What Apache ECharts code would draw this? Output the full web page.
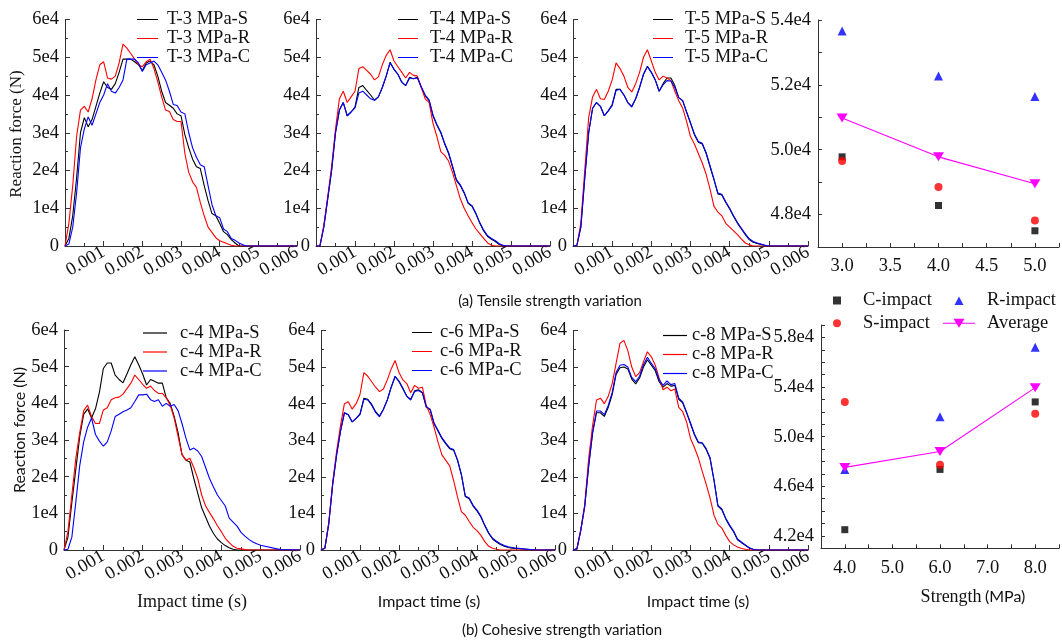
<!DOCTYPE html>
<html>
<head>
<meta charset="utf-8">
<script src="https://cdn.jsdelivr.net/npm/echarts@6/dist/echarts.min.js"></script>
<style>
  html, body { margin: 0; padding: 0; background: #fff; }
  #main { width: 1062px; height: 643px; }
</style>
</head>
<body>
<div id="main"></div>
<script>
// impact time in ms (0.1 ms steps to 5.0, then tail)
const tMs = [0,0.1,0.2,0.3,0.4,0.5,0.6,0.7,0.8,0.9,1.0,1.1,1.2,1.3,1.4,1.5,1.6,1.7,1.8,1.9,2.0,2.1,2.2,2.3,2.4,2.5,2.6,2.7,2.8,2.9,3.0,3.1,3.2,3.3,3.4,3.5,3.6,3.7,3.8,3.9,4.0,4.1,4.2,4.3,4.4,4.5,4.6,4.7,4.8,4.9,5.0,5.5,6.0];

// reaction force, x1e4 N
const t3S = [0,0.2,0.8,1.8,3.0,3.4,3.16,3.35,3.7,4.05,4.35, 4.2,4.15,4.3,4.6,4.95,4.95,4.95,4.88,4.8,4.65, 4.85,4.9,4.8,4.5,4.1,3.8,3.73,3.65,3.5,3.45, 2.95,2.6,2.3,2.1,2.05,1.6,1.2,0.86,0.8,0.6, 0.38,0.3,0.17,0.08,0,0,0,0,0,0, 0,0];
const t3R = [0,0.6,1.6,2.9,3.6,3.7,3.55,3.9,4.4,4.8,4.88, 4.45,4.42,4.5,4.85,5.35,5.24,5.1,4.95,4.8,4.75, 4.88,4.95,4.7,4.35,3.95,3.6,3.56,3.35,3.3,3.3, 2.45,1.95,1.7,1.55,1.15,0.8,0.5,0.36,0.22,0.14, 0.1,0.06,0.02,0,0,0,0,0,0,0, 0,0];
const t3C = [0,0.05,0.5,1.4,2.6,3.1,3.42,3.2,3.5,3.8,4.0, 4.3,4.1,4.05,4.2,4.4,4.95,4.95,4.95,4.85,4.62, 4.8,4.85,4.9,4.8,4.6,4.4,4.1,3.75,3.72,3.55, 3.5,3.0,2.6,2.35,2.15,2.1,1.6,1.1,0.8,0.75, 0.45,0.38,0.2,0.15,0.08,0.03,0,0,0,0, 0,0];

const t4S = [0,0,0.5,1.25,2.0,3.0,3.6,3.8,3.45,3.55,3.68, 4.2,4.25,4.12,4.0,3.86,3.95,4.2,4.5,4.87,4.68, 4.55,4.34,4.25,4.47,4.43,4.47,4.2,3.98,3.85,3.45, 3.2,3.0,2.7,2.45,2.1,1.74,1.6,1.4,1.13,1.05, 0.85,0.6,0.4,0.25,0.18,0.12,0.04,0,0,0, 0,0];
const t4R = [0,0,0.55,1.3,2.1,3.1,3.9,4.1,3.8,3.95,4.1, 4.7,4.75,4.65,4.55,4.4,4.48,4.8,5.05,5.2,4.9, 4.75,4.6,4.45,4.6,4.52,4.5,4.2,3.9,3.8,3.25, 2.9,2.5,2.4,2.25,1.95,1.6,1.25,1.0,0.8,0.62, 0.45,0.33,0.2,0.08,0.02,0,0,0,0,0, 0,0];
const t4C = [0,0,0.5,1.25,2.0,3.0,3.6,3.8,3.45,3.55,3.66, 4.05,4.1,4.0,3.9,3.86,3.95,4.2,4.5,4.85,4.68, 4.55,4.34,4.25,4.45,4.43,4.45,4.22,4.0,3.87,3.47, 3.22,3.02,2.72,2.47,2.12,1.76,1.62,1.42,1.15,1.07, 0.87,0.62,0.42,0.27,0.2,0.14,0.06,0.02,0,0, 0,0];

const t5S = [0,0.02,0.5,1.8,3.0,3.65,3.8,3.7,3.45,3.58,3.75, 4.15,4.15,4.0,3.8,3.7,3.9,4.2,4.55,4.76,4.6, 4.4,4.1,4.3,4.45,4.45,4.25,3.93,3.85,3.55,3.25, 2.95,2.75,2.7,2.45,2.1,1.75,1.38,1.35,1.15,0.98, 0.78,0.6,0.45,0.3,0.17,0.1,0.07,0.04,0.02,0, 0,0];
const t5R = [0,0.02,0.6,2.0,3.4,3.95,4.15,3.9,3.88,4.1,4.4, 4.85,4.7,4.5,4.2,4.08,4.3,4.6,5.0,5.2,4.9, 4.6,4.4,4.5,4.45,4.38,4.1,3.85,3.65,3.3,2.9, 2.7,2.45,2.2,1.9,1.5,1.05,0.9,0.8,0.6,0.5, 0.4,0.3,0.18,0.08,0.03,0,0,0,0,0, 0,0];
const t5C = [0,0.02,0.5,1.8,3.0,3.65,3.8,3.7,3.45,3.58,3.72, 4.12,4.15,4.0,3.8,3.68,3.9,4.2,4.55,4.75,4.6, 4.4,4.1,4.27,4.38,4.37,4.2,3.93,3.85,3.55,3.27, 2.97,2.77,2.72,2.47,2.12,1.77,1.4,1.37,1.17,1.0, 0.8,0.62,0.47,0.32,0.19,0.12,0.08,0.05,0.02,0, 0,0];

const c4S = [0,0.35,1.3,2.2,3.1,3.7,3.85,3.6,3.85,4.3,4.95, 5.1,5.1,4.77,4.65,4.56,4.8,5.05,5.27,5.05,4.8, 4.5,4.65,4.6,4.55,4.55,4.15,4.0,3.65,3.2,2.6, 2.45,2.4,1.95,1.55,1.15,0.9,0.65,0.45,0.3,0.2, 0.12,0.06,0.02,0,0,0,0,0,0,0, 0,0];
const c4R = [0,0.5,1.5,2.5,3.2,3.8,3.95,3.64,3.45,3.45,3.82, 3.88,4.1,4.15,4.17,4.25,4.4,4.55,4.77,4.65,4.52, 4.41,4.47,4.35,4.27,4.27,4.15,3.95,3.6,3.1,2.6, 2.45,2.5,2.25,1.95,1.5,1.2,1.02,0.85,0.66,0.5, 0.32,0.2,0.1,0.05,0.03,0.01,0,0,0,0, 0,0];
const c4C = [0,0.02,0.35,1.3,2.3,2.95,3.35,3.6,3.15,2.97,2.83, 2.95,3.25,3.64,3.7,3.77,3.82,3.88,4.05,4.23,4.23, 4.25,4.1,4.05,4.1,3.92,4.0,3.92,3.97,3.8,3.45, 3.05,2.73,2.78,2.7,2.55,2.25,1.95,1.72,1.5,1.35, 1.2,0.87,0.76,0.65,0.48,0.38,0.29,0.22,0.17,0.13, 0.01,0];

const c6S = [0,0.05,0.73,1.8,2.6,3.25,3.75,3.7,3.5,3.6,3.72, 4.15,4.12,3.98,3.78,3.66,3.85,4.1,4.45,4.75,4.62, 4.42,4.2,4.12,4.35,4.38,4.3,3.9,3.83,3.45,3.25, 3.05,2.9,2.77,2.73,2.45,2.05,1.46,1.4,1.2,1.07, 0.9,0.66,0.45,0.3,0.22,0.15,0.1,0.07,0.05,0.04, 0,0];
const c6R = [0,0.05,0.75,1.85,2.7,3.4,4.0,4.05,3.85,4.0,4.25, 4.85,4.75,4.6,4.45,4.33,4.4,4.65,4.95,5.18,4.85, 4.65,4.55,4.3,4.5,4.42,4.45,3.95,3.7,3.35,2.95, 2.6,2.45,2.3,1.9,1.45,1.05,0.95,0.78,0.62,0.53, 0.4,0.23,0.1,0.05,0.02,0,0,0,0,0, 0,0];
const c6C = [0,0.05,0.73,1.8,2.6,3.25,3.75,3.7,3.5,3.6,3.7, 4.12,4.1,3.96,3.76,3.64,3.84,4.1,4.45,4.74,4.6, 4.4,4.2,4.1,4.33,4.36,4.3,3.92,3.85,3.47,3.27, 3.07,2.92,2.79,2.75,2.47,2.07,1.48,1.42,1.22,1.09, 0.92,0.68,0.47,0.32,0.24,0.17,0.12,0.09,0.07,0.05, 0,0];

const c8S = [0,0.03,0.55,1.2,2.3,3.2,3.75,3.75,3.65,3.9,4.25, 4.8,4.98,5.0,4.95,4.67,4.54,4.7,5.0,5.2,5.05, 4.9,4.6,4.45,4.55,4.48,4.5,4.12,4.02,3.75,3.45, 3.15,2.93,2.92,2.75,2.5,1.9,1.2,1.1,0.85,0.66, 0.5,0.28,0.2,0.13,0.05,0.02,0,0,0,0, 0,0];
const c8R = [0,0.03,0.55,1.25,2.5,3.4,4.1,4.15,4.0,4.2,4.55, 5.1,5.65,5.73,5.45,5.0,4.74,4.85,5.15,5.42,5.28, 5.05,4.7,4.38,4.45,4.35,4.4,3.9,3.78,3.5,3.05, 2.8,2.52,2.15,1.8,1.42,0.95,0.7,0.6,0.4,0.23, 0.14,0.08,0.04,0.02,0,0,0,0,0,0, 0,0];
const c8C = [0,0.03,0.55,1.2,2.3,3.2,3.8,3.8,3.7,3.95,4.3, 4.85,5.05,5.07,5.0,4.72,4.6,4.75,5.07,5.27,5.1, 4.95,4.65,4.5,4.62,4.52,4.55,4.15,4.05,3.77,3.47, 3.17,2.95,2.93,2.77,2.52,1.92,1.22,1.12,0.87,0.68, 0.52,0.3,0.22,0.14,0.06,0.02,0,0,0,0, 0,0];

// peak force vs strength, x1e4 N
const tensileMPa = [3, 4, 5];
const tensileC = [4.978, 4.828, 4.75];
const tensileR = [5.366, 5.227, 5.164];
const tensileS = [4.965, 4.885, 4.782];
const tensileAvg = [5.098, 4.978, 4.895];

const cohesiveMPa = [4, 6, 8];
const cohesiveC = [4.25, 4.736, 5.28];
const cohesiveR = [4.736, 5.16, 5.72];
const cohesiveS = [5.28, 4.774, 5.184];
const cohesiveAvg = [4.752, 4.88, 5.395];

const SERIF = '"Liberation Serif", "DejaVu Serif", serif';
const SANS = 'Lato, "Noto Sans", sans-serif';
const AXIS = '#333';
const FS = 18.5;

// legend icons
const LINE_ICON = 'path://M0,0L20,0L20,1L0,1Z';
const TRI_ICON = 'path://M0,0L0.01,0Z M16,1L20.5,9.5L11.5,9.5Z M32,10L31.99,10Z';
const AVG_ICON = 'path://M0,4.5L32,4.5L32,5.5L0,5.5Z M10.5,0.5L21.5,0.5L16,9.5Z M0,0L0.01,0Z M32,10L31.99,10Z';

const panels = [
    { tag: 'T-3 MPa', S: t3S, R: t3R, C: t3C, g: [65, 19.5, 232, 226.5], leg: [137, 10, 21, 4, 0, 18] },
    { tag: 'T-4 MPa', S: t4S, R: t4R, C: t4C, g: [316, 19.5, 234, 226.5], leg: [398, 10, 20, 7, 0, 18] },
    { tag: 'T-5 MPa', S: t5S, R: t5R, C: t5C, g: [573, 19.5, 235, 226.5], leg: [653, 10, 20, 7, 0, 18] },
    { tag: 'c-4 MPa', S: c4S, R: c4R, C: c4C, g: [64, 330, 236, 220], leg: [143, 323.5, 24, 8, 0, 17] },
    { tag: 'c-6 MPa', S: c6S, R: c6R, C: c6C, g: [321, 330.5, 234, 219.5], leg: [412, 323, 20, 3, 0, 18] },
    { tag: 'c-8 MPa', S: c8S, R: c8R, C: c8C, g: [573, 330.5, 235, 219.5], leg: [663, 326, 24, 0, 0, 18] }
];

const grids = [], xAxes = [], yAxes = [], series = [], legends = [];

function pairs(arr) {
    return tMs.map((t, i) => [t / 1000, arr[i] * 1e4]);
}

panels.forEach((p, i) => {
    grids.push({ left: p.g[0], top: p.g[1], width: p.g[2], height: p.g[3] });
    xAxes.push({
        gridIndex: i, type: 'value', min: 0, max: 0.006, interval: 0.001,
        axisLine: { lineStyle: { color: AXIS } },
        axisTick: { inside: true, length: 5, lineStyle: { color: AXIS } },
        minorTick: { show: true, splitNumber: 2, length: 3, lineStyle: { color: AXIS } },
        splitLine: { show: false },
        axisLabel: {
            rotate: 30, margin: 5, showMaxLabel: true, color: '#111',
            fontFamily: SERIF, fontSize: FS,
            formatter: v => v === 0 ? '' : v.toFixed(3)
        }
    });
    yAxes.push({
        gridIndex: i, type: 'value', min: 0, max: 60000, interval: 10000,
        axisLine: { show: true, lineStyle: { color: AXIS } },
        axisTick: { show: true, inside: true, length: 5, lineStyle: { color: AXIS } },
        minorTick: { show: true, splitNumber: 2, length: 3, lineStyle: { color: AXIS } },
        splitLine: { show: false },
        axisLabel: {
            margin: 6, color: '#111', fontFamily: SERIF, fontSize: FS,
            formatter: v => v === 0 ? '0' : (v / 1e4) + 'e4'
        }
    });
    const names = [p.tag + '-S', p.tag + '-R', p.tag + '-C'];
    [[p.S, '#000000'], [p.R, '#ff0000'], [p.C, '#0000ff']].forEach((s, k) => {
        series.push({
            name: names[k], type: 'line', xAxisIndex: i, yAxisIndex: i,
            data: pairs(s[0]), symbol: 'none', showSymbol: false,
            lineStyle: { color: s[1], width: 1.1 }, itemStyle: { color: s[1] }
        });
    });
    legends.push({
        data: names.map(n => ({ name: n, icon: LINE_ICON })),
        orient: 'vertical', left: p.leg[0], top: p.leg[1],
        itemWidth: p.leg[2], itemHeight: 1.2, itemGap: p.leg[4], selectedMode: false,
        padding: 0,
        textStyle: { fontFamily: SERIF, fontSize: FS, lineHeight: p.leg[5], color: '#111', padding: [0, 0, 0, p.leg[3]] }
    });
});

// scatter panels
const sc = [
    { x: tensileMPa, C: tensileC, R: tensileR, S: tensileS, A: tensileAvg, g: { left: 818, top: 20, right: -5, height: 227 },
      xa: { min: 2.75, max: 5.25, interval: 0.25, lab: v => Math.abs(v * 2 - Math.round(v * 2)) < 1e-6 ? v.toFixed(1) : '' },
      ya: { min: 47000, max: 54000, interval: 1000, lab: v => (Math.round(v / 1000) % 2 === 0) ? (v / 1e4).toFixed(1) + 'e4' : '' } },
    { x: cohesiveMPa, C: cohesiveC, R: cohesiveR, S: cohesiveS, A: cohesiveAvg, g: { left: 821, top: 325, right: -5, height: 223.3 },
      xa: { min: 3.5, max: 8.5, interval: 0.5, lab: v => Math.abs(v - Math.round(v)) < 1e-6 ? v.toFixed(1) : '' },
      ya: { min: 41000, max: 59000, interval: 1000, lab: v => ((Math.round(v / 1000) - 42) % 4 === 0) ? (v / 1e4).toFixed(1) + 'e4' : '' } }
];

sc.forEach((p, j) => {
    const gi = grids.length;
    grids.push(p.g);
    xAxes.push({
        gridIndex: gi, type: 'value', min: p.xa.min, max: p.xa.max, interval: p.xa.interval,
        axisLine: { lineStyle: { color: AXIS } },
        axisTick: { inside: true, length: 4, lineStyle: { color: AXIS } },
        splitLine: { show: false },
        axisLabel: { margin: 10, color: '#111', fontFamily: SERIF, fontSize: FS, formatter: p.xa.lab }
    });
    yAxes.push({
        gridIndex: gi, type: 'value', min: p.ya.min, max: p.ya.max, interval: p.ya.interval,
        axisLine: { show: true, lineStyle: { color: AXIS } },
        axisTick: { show: true, inside: true, length: 4, lineStyle: { color: AXIS } },
        splitLine: { show: false },
        axisLabel: { margin: 7, color: '#111', fontFamily: SERIF, fontSize: FS, formatter: p.ya.lab }
    });
    const pts = arr => p.x.map((x, i) => [x, arr[i] * 1e4]);
    series.push(
        { name: 'C-impact', type: 'scatter', xAxisIndex: gi, yAxisIndex: gi, data: pts(p.C), symbol: 'rect', symbolSize: 7, itemStyle: { color: '#000' } },
        { name: 'S-impact', type: 'scatter', xAxisIndex: gi, yAxisIndex: gi, data: pts(p.S), symbol: 'circle', symbolSize: 8, itemStyle: { color: '#ff0000' } },
        { name: 'R-impact', type: 'scatter', xAxisIndex: gi, yAxisIndex: gi, data: pts(p.R), symbol: 'triangle', symbolSize: 9, itemStyle: { color: '#0000ff' } },
        { name: 'Average', type: 'line', xAxisIndex: gi, yAxisIndex: gi, data: pts(p.A), symbol: 'path://M0,0L10,0L5,9Z', symbolSize: [11, 9],
          showSymbol: true, lineStyle: { color: '#ff00ff', width: 1.1 }, itemStyle: { color: '#ff00ff' } }
    );
});

legends.push(
    { data: [{ name: 'C-impact', icon: 'rect' }, { name: 'S-impact', icon: 'circle' }],
      orient: 'vertical', left: 833, top: 291, itemWidth: 8, itemHeight: 8, itemGap: 3.7,
      selectedMode: false, padding: 0,
      textStyle: { fontFamily: SERIF, fontSize: FS, lineHeight: 18, color: '#111', padding: [0, 0, 0, 17] } },
    { data: [{ name: 'R-impact', icon: TRI_ICON }, { name: 'Average', icon: AVG_ICON }],
      orient: 'vertical', left: 943, top: 291, itemWidth: 32, itemHeight: 10, itemGap: 3.7,
      selectedMode: false, padding: 0,
      textStyle: { fontFamily: SERIF, fontSize: FS, lineHeight: 18, color: '#111', padding: [0, 0, 0, 7] } }
);

function label(x, y, text, font, rot) {
    return {
        type: 'text', x: x, y: y, rotation: rot || 0,
        style: { text: text, font: font, fill: '#111', textAlign: 'center', textVerticalAlign: 'middle' }
    };
}

const graphics = [
    label(17, 134, 'Reaction force (N)', '17px ' + SERIF, Math.PI / 2),
    label(20, 430, 'Reaction force (N)', '16px ' + SANS, Math.PI / 2),
    label(192, 602, 'Impact time (s)', '18px ' + SERIF),
    label(429, 602, 'Impact time (s)', '16px ' + SANS),
    label(698, 602, 'Impact time (s)', '16px ' + SANS),
    label(550, 301, '(a) Tensile strength variation', '15px ' + SANS),
    label(562, 630, '(b) Cohesive strength variation', '15px ' + SANS),
    {
        type: 'text', x: 973, y: 597,
        style: {
            text: '{a|Strength} {b|(MPa)}', textAlign: 'center', textVerticalAlign: 'middle',
            rich: {
                a: { fontFamily: SERIF, fontSize: 18, fill: '#111', color: '#111' },
                b: { fontFamily: SANS, fontSize: 16, fill: '#111', color: '#111' }
            }
        }
    }
];

const chart = echarts.init(document.getElementById('main'), null, { renderer: 'canvas' });
chart.setOption({
    animation: false,
    backgroundColor: '#fff',
    grid: grids,
    xAxis: xAxes,
    yAxis: yAxes,
    legend: legends,
    series: series,
    graphic: graphics
});
</script>
</body>
</html>
